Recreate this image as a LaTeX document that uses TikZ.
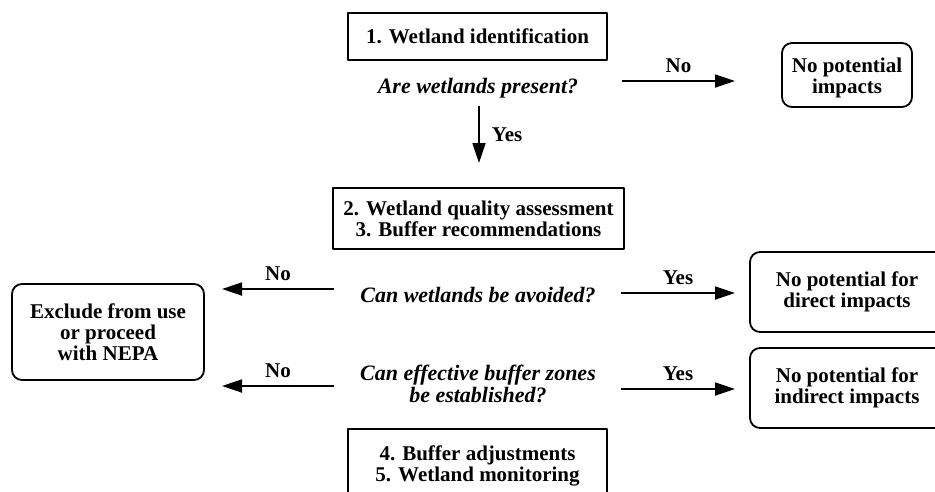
\documentclass[tikz,border=0pt]{standalone}
\usepackage{fontspec}
\setmainfont{Liberation Serif}
\usepackage{tikz}
\usetikzlibrary{arrows.meta}

\begin{document}
\begin{tikzpicture}[x=1pt, y=-1pt, line join=round,
    every node/.style={font=\fontsize{21}{21}\selectfont\bfseries, align=center, inner sep=0pt},
    stepbox/.style={draw, line width=1.8pt},
    endbox/.style={draw, line width=1.8pt, rounded corners=10pt},
    question/.style={font=\fontsize{22}{22}\selectfont\bfseries\itshape},
    flow/.style={line width=1.8pt, -{Triangle[length=20pt, width=13pt]}}]
        \useasboundingbox (0,0) rectangle (935,491);
        % boxes
        \node[stepbox, minimum width=259pt, minimum height=47pt] (ident) at (477.5, 36.5) {1. Wetland identification};
        \node[stepbox, minimum width=291pt, minimum height=61pt] (assess) at (478.5, 218.5) {2. Wetland quality assessment\\3. Buffer recommendations};
        \node[stepbox, minimum width=259pt, minimum height=74pt] (adjust) at (477.5, 466) {4. Buffer adjustments\\5. Wetland monitoring};
        \node[endbox, minimum width=130pt, minimum height=64pt] (noimp) at (847, 75) {};
        \node (noimptxt) at (847, 78) {No potential\\impacts};
        \node[endbox, minimum width=192pt, minimum height=96pt] (exclude) at (108, 332) {Exclude from use\\or proceed\\with NEPA};
        \node[endbox, minimum width=194pt, minimum height=80pt] (direct) at (847, 292) {No potential for\\direct impacts};
        \node[endbox, minimum width=194pt, minimum height=80pt] (indirect) at (847, 388) {No potential for\\indirect impacts};
        % questions
        \node[question] (present) at (478, 88) {Are wetlands present?};
        \node[question] (avoid) at (478, 295) {Can wetlands be avoided?};
        \node[question] (buffer) at (478, 384) {Can effective buffer zones\\be established?};
        % arrow ends
        \coordinate (p1) at (622, 81);   \coordinate (p2) at (735, 81);
        \coordinate (d1) at (479, 106);  \coordinate (d2) at (479, 163);
        \coordinate (a1) at (334, 289);  \coordinate (a2) at (222, 289);
        \coordinate (a3) at (621, 293);  \coordinate (a4) at (735, 293);
        \coordinate (b1) at (334, 386);  \coordinate (b2) at (222, 386);
        \coordinate (b3) at (621, 389);  \coordinate (b4) at (735, 389);
        \draw[flow] (p1) -- node[above=7pt] {No} (p2);
        \draw[flow] (d1) -- node[right=12pt] {Yes} (d2);
        \draw[flow] (a1) -- node[above=7pt] {No} (a2);
        \draw[flow] (a3) -- node[above=7pt] {Yes} (a4);
        \draw[flow] (b1) -- node[above=7pt] {No} (b2);
        \draw[flow] (b3) -- node[above=7pt] {Yes} (b4);
    \end{tikzpicture}
\end{document}
